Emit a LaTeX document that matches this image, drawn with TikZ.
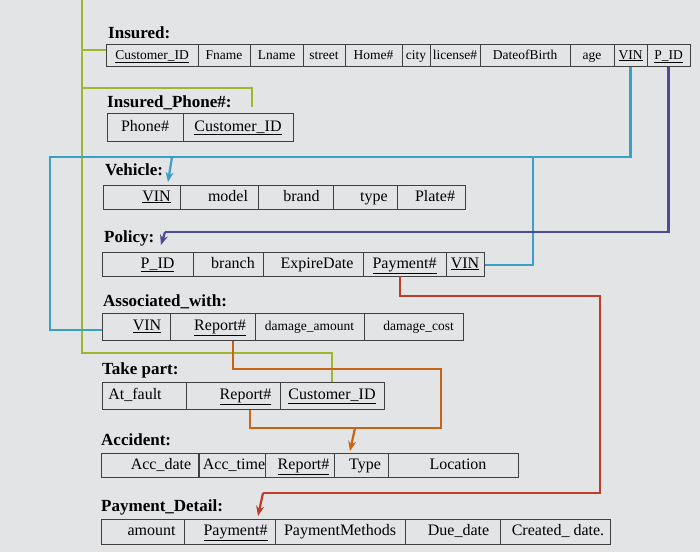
\documentclass[tikz,border=0pt]{standalone}
\usepackage{fontspec}
\setmainfont{Liberation Serif}
\usetikzlibrary{arrows.meta}
\definecolor{bg}{RGB}{226,228,230}
\definecolor{lgreen}{RGB}{160,182,44}
\definecolor{lblue}{RGB}{58,160,200}
\definecolor{lpurple}{RGB}{78,74,150}
\definecolor{lred}{RGB}{190,60,40}
\definecolor{lorange}{RGB}{200,100,20}
\tikzset{
 cellbox/.style={draw=black!75,line width=1pt,inner sep=0pt,text height=11pt,text depth=3pt,font=\fontsize{16}{17}\selectfont},
 ttl/.style={anchor=west,inner sep=0pt,font=\bfseries\fontsize{17}{18}\selectfont},
 lnk/.style={line width=2.2pt},
 arr/.style={-{Stealth[length=10pt,width=8pt]}}
}
\newcommand{\mycell}[6]{\node[cellbox,minimum width={#3-#2},minimum height={#5-#4}] (#1) at ({(#2+#3)/2},{(#4+#5)/2}) {#6};}
\newcommand{\ul}[1]{\underline{#1}}
\newcommand{\sm}{\fontsize{13.5}{14}\selectfont}
\begin{document}
\begin{tikzpicture}[x=1pt,y=-1pt]
\fill[bg] (0,0) rectangle (700,552);
\useasboundingbox (0,0) rectangle (700,552);
% titles
\node[ttl] (tIns) at (108,33) {Insured:};
\node[ttl] (tPh) at (107,103) {Insured\_Phone\#:};
\node[ttl] (tVeh) at (105,170) {Vehicle:};
\node[ttl] (tPol) at (104,238) {Policy:};
\node[ttl] (tAs) at (103,302) {Associated\_with:};
\node[ttl] (tTp) at (102,370) {Take part:};
\node[ttl] (tAc) at (101,440) {Accident:};
\node[ttl] (tPd) at (101,507) {Payment\_Detail:};
% Insured
\mycell{iCid}{106}{198}{44}{66}{\sm\ul{Customer\_ID}}
\mycell{iFn}{198}{250}{44}{66}{\sm Fname}
\mycell{iLn}{250}{303}{44}{66}{\sm Lname}
\mycell{iSt}{303}{345}{44}{66}{\sm street}
\mycell{iHo}{345}{402}{44}{66}{\sm Home\#}
\mycell{iCi}{402}{430}{44}{66}{\sm city}
\mycell{iLi}{430}{480}{44}{66}{\sm license\#}
\mycell{iDb}{480}{570}{44}{66}{\sm DateofBirth}
\mycell{iAg}{570}{614}{44}{66}{\sm age}
\mycell{iVin}{614}{647}{44}{66}{\sm\ul{VIN}}
\mycell{iPid}{647}{690}{44}{66}{\sm\ul{P\_ID}}
% Phone
\mycell{pPh}{107}{183}{113}{141}{Phone\#}
\mycell{pCid}{183}{293}{113}{141}{\ul{Customer\_ID}}
% Vehicle
\mycell{vVin}{103}{180}{185}{209}{\hspace*{30pt}\ul{VIN}}
\mycell{vMo}{180}{258}{185}{209}{\hspace*{18pt}model}
\mycell{vBr}{258}{333}{185}{209}{\hspace*{12pt}brand}
\mycell{vTy}{333}{397}{185}{209}{\hspace*{18pt}type}
\mycell{vPl}{397}{465}{185}{209}{\hspace*{8pt}Plate\#}
% Policy
\mycell{oPid}{102}{193}{252}{276}{\hspace*{20pt}\ul{P\_ID}}
\mycell{oBr}{193}{263}{252}{276}{\hspace*{10pt}branch}
\mycell{oEx}{263}{363}{252}{276}{\hspace*{8pt}ExpireDate}
\mycell{oPay}{363}{446}{252}{276}{\ul{Payment\#}}
\mycell{oVin}{446}{484}{252}{276}{\ul{VIN}}
% Associated
\mycell{aVin}{102}{170}{313}{340}{\hspace*{22pt}\ul{VIN}}
\mycell{aRep}{170}{255}{313}{340}{\hspace*{15pt}\ul{Report\#}}
\mycell{aDa}{255}{364}{313}{340}{\sm damage\_amount}
\mycell{aDc}{364}{463}{313}{340}{\hspace*{10pt}\sm damage\_cost}
% Take part
\mycell{tAf}{102}{186}{382}{409}{At\_fault\hspace*{18pt}}
\mycell{tRep}{186}{280}{382}{409}{\hspace*{25pt}\ul{Report\#}}
\mycell{tCid}{280}{384}{382}{409}{\ul{Customer\_ID}}
% Accident
\mycell{cDa}{101}{199}{453}{477}{\hspace*{22pt}Acc\_date}
\mycell{cTi}{199}{265}{453}{477}{\hspace*{4pt}Acc\_time}
\mycell{cRep}{265}{334}{453}{477}{\hspace*{8pt}\ul{Report\#}}
\mycell{cTy}{334}{388}{453}{477}{\hspace*{8pt}Type}
\mycell{cLo}{388}{518}{453}{477}{\hspace*{10pt}Location}
% Payment detail
\mycell{dAm}{101}{184}{519}{544}{\hspace*{18pt}amount}
\mycell{dPay}{184}{275}{519}{544}{\hspace*{12pt}\ul{Payment\#}}
\mycell{dMe}{275}{405}{519}{544}{PaymentMethods}
\mycell{dDu}{405}{500}{519}{544}{\hspace*{12pt}Due\_date}
\mycell{dCr}{500}{610}{519}{544}{\hspace*{6pt}Created\_ date.}
% connectors
\coordinate (gTop) at (82,0);
\draw[lnk,lgreen] (gTop) -- (82,353) -- (tCid.north |- 0,353) -- (tCid.north);
\draw[lnk,lgreen] (82,50) -- (iCid.west |- 0,50);
\draw[lnk,lgreen] (82,88) -- (252,88) -- (252,107);
\coordinate (bLeft) at (50,157);
\draw[lnk,lblue] (iVin.south) -- (iVin.south |- 0,157) -- (bLeft) -- (50,330) -- (aVin.west |- 0,330);
\draw[lnk,lblue,arr] (172,157) -- (168,182);
\draw[lnk,lblue] (533,157) -- (533,265) -- (oVin.east |- 0,265);
\draw[lnk,lpurple] (iPid.south) -- (iPid.south |- 0,232) -- (165,232);
\draw[lnk,lpurple,arr] (165,232) -- (161,245);
\draw[lnk,lred] (400,276) -- (400,296) -- (600,296) -- (600,493) -- (263,493);
\draw[lnk,lred,arr] (263,493) -- (258,516);
\draw[lnk,lorange] (aRep.south -| 233,0) -- (233,369) -- (441,369) -- (441,428) -- (250,428) -- (tRep.south -| 250,0);
\draw[lnk,lorange,arr] (355,428) -- (350,451);
\end{tikzpicture}
\end{document}
